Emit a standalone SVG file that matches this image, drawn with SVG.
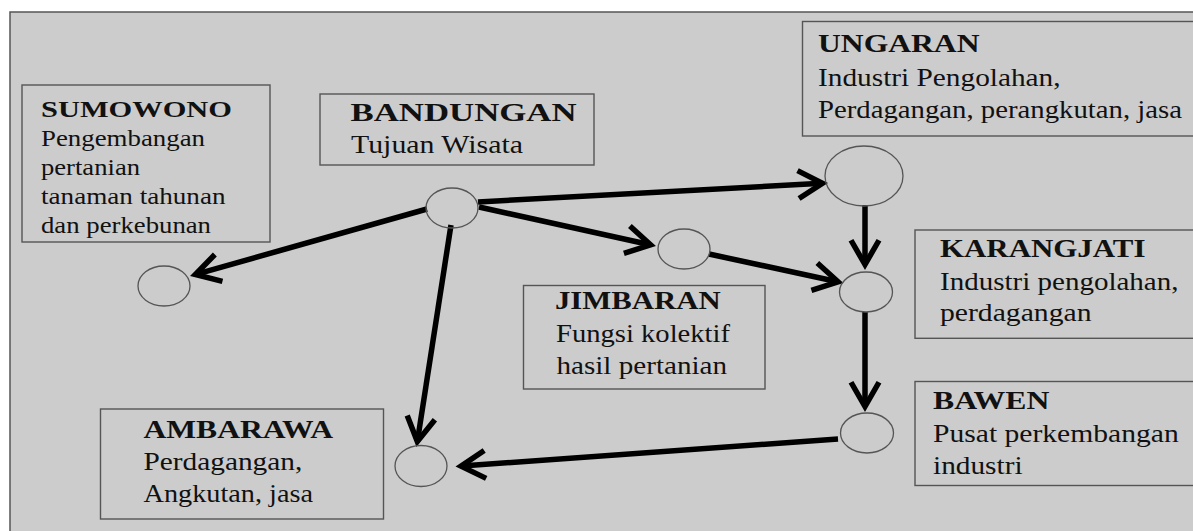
<svg xmlns="http://www.w3.org/2000/svg" width="1193" height="531" viewBox="0 0 1193 531">
<style>
.box{fill:none;stroke:#555;stroke-width:1.4}
.nd{fill:none;stroke:#555;stroke-width:1.3}
.t{font-family:"Liberation Serif","Times New Roman",serif;fill:#111}
.b{font-weight:bold}
.s{font-size:22.6px}
.m{font-size:25px}
.c{fill:none;stroke:#000;stroke-width:5.5}
</style>
<defs>
<marker id="ah" markerUnits="userSpaceOnUse" viewBox="-30 -20 40 40" markerWidth="40" markerHeight="40" refX="0" refY="0" orient="auto">
<path d="M-23.75,-14 L0.5,0 L-23.75,14" fill="none" stroke="#000" stroke-width="5.5"/>
</marker>
</defs>
<rect x="0" y="0" width="1193" height="531" fill="#fff"/>
<rect x="10" y="12" width="1200" height="530" fill="#cccccc" stroke="#555" stroke-width="1.5"/>

<g id="connectors">
<line class="c" x1="427" y1="209" x2="195.8" y2="274.4" marker-end="url(#ah)"/>
<line class="c" x1="478" y1="202" x2="822" y2="183.3" marker-end="url(#ah)"/>
<line class="c" x1="479" y1="207" x2="650.1" y2="244.7" marker-end="url(#ah)"/>
<line class="c" x1="451" y1="225" x2="417.4" y2="441.1" marker-end="url(#ah)"/>
<line class="c" x1="865" y1="205" x2="865" y2="264" marker-end="url(#ah)"/>
<line class="c" x1="709" y1="254" x2="837.6" y2="281.7" marker-end="url(#ah)"/>
<line class="c" x1="865" y1="312" x2="865" y2="406" marker-end="url(#ah)"/>
<line class="c" x1="838" y1="439" x2="461.5" y2="466.1" marker-end="url(#ah)"/>
</g>

<g id="sumowono">
<rect class="box" x="22" y="85" width="248" height="157"/>
<text class="t s b" x="41" y="117" textLength="191" lengthAdjust="spacingAndGlyphs">SUMOWONO</text>
<text class="t s" x="41" y="146" textLength="164" lengthAdjust="spacingAndGlyphs">Pengembangan</text>
<text class="t s" x="41" y="175" textLength="99" lengthAdjust="spacingAndGlyphs">pertanian</text>
<text class="t s" x="41" y="204" textLength="184.5" lengthAdjust="spacingAndGlyphs">tanaman tahunan</text>
<text class="t s" x="41" y="233" textLength="170" lengthAdjust="spacingAndGlyphs">dan perkebunan</text>
<ellipse class="nd" cx="164" cy="286" rx="26" ry="20"/>
</g>

<g id="bandungan">
<rect class="box" x="320" y="94" width="274" height="71"/>
<text class="t m b" x="350.5" y="121" textLength="226" lengthAdjust="spacingAndGlyphs">BANDUNGAN</text>
<text class="t m" x="351" y="153" textLength="172" lengthAdjust="spacingAndGlyphs">Tujuan Wisata</text>
<ellipse class="nd" cx="452" cy="208" rx="26" ry="20"/>
</g>

<g id="ungaran">
<rect class="box" x="802.5" y="21.5" width="420" height="114.5"/>
<text class="t m b" x="818" y="52" textLength="161.5" lengthAdjust="spacingAndGlyphs">UNGARAN</text>
<text class="t m" x="818" y="85.5" textLength="242.6" lengthAdjust="spacingAndGlyphs">Industri Pengolahan,</text>
<text class="t m" x="818" y="117.5" textLength="364" lengthAdjust="spacingAndGlyphs">Perdagangan, perangkutan, jasa</text>
<ellipse class="nd" cx="864" cy="176" rx="39" ry="30"/>
</g>

<g id="jimbaran">
<rect class="box" x="523.5" y="285.5" width="241.5" height="103.5"/>
<text class="t m b" x="555" y="308.5" textLength="165.7" lengthAdjust="spacingAndGlyphs">JIMBARAN</text>
<text class="t m" x="556" y="341.5" textLength="174" lengthAdjust="spacingAndGlyphs">Fungsi kolektif</text>
<text class="t m" x="556.5" y="373.5" textLength="170.5" lengthAdjust="spacingAndGlyphs">hasil pertanian</text>
<ellipse class="nd" cx="684" cy="249" rx="26" ry="20"/>
</g>

<g id="karangjati">
<rect class="box" x="915" y="230" width="300" height="108.3"/>
<text class="t m b" x="940" y="257" textLength="205.5" lengthAdjust="spacingAndGlyphs">KARANGJATI</text>
<text class="t m" x="940" y="290" textLength="238.5" lengthAdjust="spacingAndGlyphs">Industri pengolahan,</text>
<text class="t m" x="940" y="321" textLength="151.5" lengthAdjust="spacingAndGlyphs">perdagangan</text>
<ellipse class="nd" cx="866" cy="292" rx="26.5" ry="20"/>
</g>

<g id="bawen">
<rect class="box" x="915" y="381.5" width="300" height="104"/>
<text class="t m b" x="933" y="409" textLength="116.4" lengthAdjust="spacingAndGlyphs">BAWEN</text>
<text class="t m" x="933" y="442" textLength="245.7" lengthAdjust="spacingAndGlyphs">Pusat perkembangan</text>
<text class="t m" x="933" y="473.5" textLength="89.6" lengthAdjust="spacingAndGlyphs">industri</text>
<ellipse class="nd" cx="867" cy="433" rx="26.5" ry="20"/>
</g>

<g id="ambarawa">
<rect class="box" x="100.5" y="409" width="283" height="110"/>
<text class="t m b" x="143.5" y="438" textLength="189.5" lengthAdjust="spacingAndGlyphs">AMBARAWA</text>
<text class="t m" x="143.5" y="470" textLength="158.8" lengthAdjust="spacingAndGlyphs">Perdagangan,</text>
<text class="t m" x="143.5" y="502" textLength="169.5" lengthAdjust="spacingAndGlyphs">Angkutan, jasa</text>
<ellipse class="nd" cx="421" cy="466" rx="26" ry="20.5"/>
</g>
</svg>
